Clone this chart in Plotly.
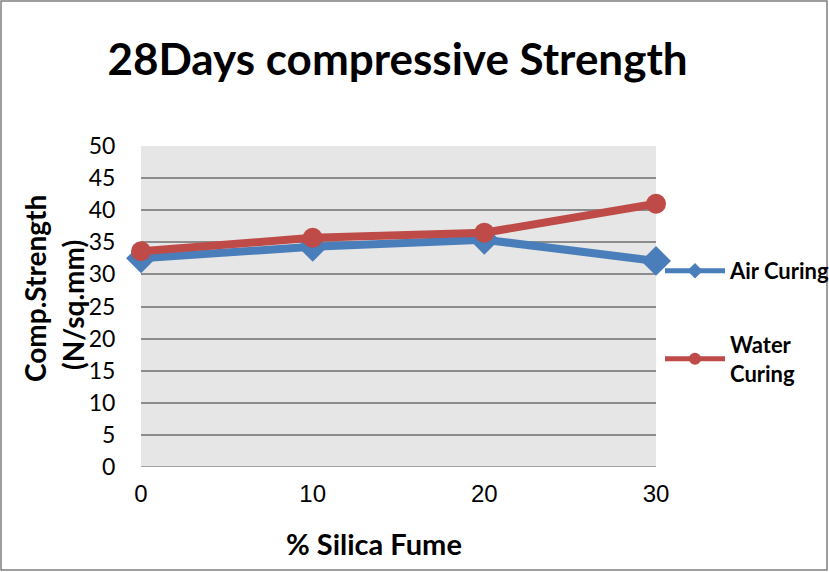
import plotly.graph_objects as go

silica = [0, 10, 20, 30]
air_curing = [32.5, 34.3, 35.4, 32.1]
water_curing = [33.6, 35.7, 36.5, 41.0]
y_ticks = [0, 5, 10, 15, 20, 25, 30, 35, 40, 45, 50]

FONT = "Lato"
L, R, T, B = 141, 173, 146, 105
W, H = 829, 572
pw, ph = W - L - R, H - T - B

fig = go.Figure()
fig.add_trace(go.Scatter(
    x=silica, y=air_curing, name="<b>Air Curing</b>", mode="lines+markers",
    line=dict(color="#4a7ebb", width=8),
    marker=dict(symbol="diamond", size=23, color="#4a7ebb"),
    legendgroup="a", cliponaxis=False))
fig.add_trace(go.Scatter(
    x=silica, y=water_curing, name="<b>Water<br>Curing</b>", mode="lines+markers",
    line=dict(color="#be4b48", width=8),
    marker=dict(symbol="circle", size=20, color="#be4b48"),
    legendgroup="b", cliponaxis=False))

fig.update_layout(
    width=W, height=H,
    margin=dict(l=L, r=R, t=T, b=B, autoexpand=False),
    paper_bgcolor="white", plot_bgcolor="#e6e6e6",
    font=dict(family=FONT, color="black"),
    title=dict(text="<b>28Days compressive Strength</b>", x=397.5 / W, xanchor="center",
               y=1 - 60 / H, yanchor="middle", font=dict(size=44, family=FONT)),
    showlegend=True,
    legend=dict(x=(660 - L) / pw, xanchor="left", y=1 - (250 - T) / ph, yanchor="top",
                font=dict(size=22, family=FONT), tracegroupgap=42, itemwidth=60,
                itemsizing="constant", bgcolor="rgba(0,0,0,0)"),
    xaxis=dict(range=[0, 30], tickvals=silica, ticktext=[str(v) for v in silica],
               showgrid=False, zeroline=False, showline=False,
               tickfont=dict(size=24, family="Liberation Sans"),
               ticks="outside", ticklen=5, tickcolor="rgba(0,0,0,0)"),
    yaxis=dict(range=[0, 50], tickvals=y_ticks, showgrid=True, gridcolor="#8c8c8c",
               gridwidth=1.5, zeroline=False, showline=False,
               tickfont=dict(size=23), ticks="outside", ticklen=20,
               tickcolor="rgba(0,0,0,0)"),
    annotations=[
        dict(text="<b>% Silica Fume</b>", xref="paper", yref="paper",
             x=(374 - L) / pw, y=-(543 - T - ph) / ph, xanchor="center", yanchor="middle",
             showarrow=False, font=dict(size=29, family=FONT)),
        dict(text="<b>Comp.Strength</b>", xref="paper", yref="paper", textangle=-90,
             x=(35 - L) / pw, y=1 - (289 - T) / ph, xanchor="center", yanchor="middle",
             showarrow=False, font=dict(size=28, family=FONT)),
        dict(text="<b>(N/sq.mm)</b>", xref="paper", yref="paper", textangle=-90,
             x=(73 - L) / pw, y=1 - (305 - T) / ph, xanchor="center", yanchor="middle",
             showarrow=False, font=dict(size=28, family=FONT)),
    ],
)
fig.add_shape(type="line", xref="paper", yref="y", x0=0, x1=1, y0=0, y1=0,
              line=dict(color="#8c8c8c", width=1.5))
fig.add_shape(type="rect", xref="paper", yref="paper",
              x0=(1 - L) / pw, x1=(827 - L) / pw,
              y0=-(570 - (T + ph)) / ph, y1=(T + ph - 1) / ph,
              line=dict(color="#7f7f7f", width=1.5), layer="below")

fig.write_html("out.html", config={"displayModeBar": False},
               post_script="document.body.style.margin='0px';")
